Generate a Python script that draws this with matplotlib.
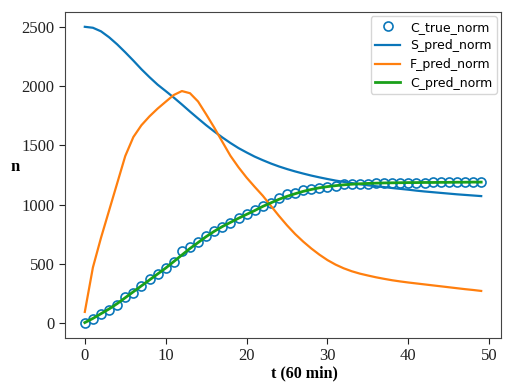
import numpy as np
import matplotlib
matplotlib.use('Agg')
import matplotlib.pyplot as plt

# time steps (60 min each)
t = list(range(50))

C_true = [0, 34, 76, 109, 152, 219, 258, 314, 370, 412,
          466, 516, 609, 643, 685, 735, 777, 811, 848, 885,
          920, 951, 988, 1012, 1058, 1086, 1100, 1120, 1134, 1142,
          1151, 1156, 1170, 1174, 1177, 1178, 1180, 1182, 1183, 1184,
          1185, 1186, 1186, 1187, 1187, 1188, 1188, 1189, 1189, 1190]

S_pred = [2500, 2492, 2462, 2412, 2352, 2285, 2215, 2142, 2075, 2012,
          1958, 1903, 1845, 1785, 1727, 1670, 1617, 1567, 1520, 1477,
          1440, 1405, 1375, 1347, 1322, 1300, 1280, 1262, 1245, 1230,
          1216, 1203, 1192, 1182, 1172, 1163, 1155, 1148, 1140, 1133,
          1126, 1118, 1111, 1105, 1099, 1093, 1087, 1082, 1077, 1072]

F_pred = [95, 470, 720, 950, 1180, 1410, 1570, 1670, 1745, 1810,
          1868, 1925, 1958, 1940, 1870, 1762, 1650, 1530, 1412, 1315,
          1228, 1150, 1075, 990, 905, 825, 752, 688, 630, 578,
          532, 494, 463, 438, 418, 402, 387, 374, 362, 352,
          343, 335, 327, 319, 311, 303, 295, 287, 280, 272]

C_pred = [5, 40, 80, 120, 165, 215, 265, 315, 365, 415,
          465, 520, 575, 630, 680, 730, 775, 815, 850, 885,
          918, 950, 985, 1015, 1045, 1070, 1092, 1112, 1128, 1142,
          1152, 1160, 1167, 1172, 1176, 1179, 1181, 1183, 1184, 1185,
          1186, 1186, 1187, 1187, 1188, 1188, 1189, 1189, 1190, 1190]

fig = plt.figure(figsize=(5.05, 3.82), dpi=100)
ax = fig.add_axes([0.1287, 0.1152, 0.8634, 0.8534])

blue = '#0a76b9'
ax.plot(t, C_true, 'o', mfc='none', mec=blue, ms=6.5, mew=1.2, label='C_true_norm')
ax.plot(t, S_pred, color=blue, lw=1.6, label='S_pred_norm')
ax.plot(t, F_pred, color='#ff7f0e', lw=1.6, label='F_pred_norm')
ax.plot(t, C_pred, color='#1aa01a', lw=2.0, label='C_pred_norm')

ax.set_xticks([0, 10, 20, 30, 40, 50])
ax.set_yticks([0, 500, 1000, 1500, 2000, 2500])
for lab in ax.get_xticklabels() + ax.get_yticklabels():
    lab.set_fontfamily('Liberation Serif')
    lab.set_fontsize(12)
for s in ax.spines.values():
    s.set_color('#444444')
ax.tick_params(colors='#222222', length=4)

ax.set_xlabel('t (60 min)', fontfamily='Liberation Serif', fontweight='bold', fontsize=11.5)
ax.set_ylabel('n', fontfamily='Liberation Serif', fontweight='bold', fontsize=12, rotation=0)
ax.xaxis.set_label_coords(0.55, -0.085)
ax.yaxis.set_label_coords(-0.114, 0.5)

ax.legend(loc='upper right', fontsize=9, handlelength=2.0, handletextpad=0.8,
          borderpad=0.35, labelspacing=0.45, borderaxespad=0.35)

fig.savefig('out.png', dpi=100)
